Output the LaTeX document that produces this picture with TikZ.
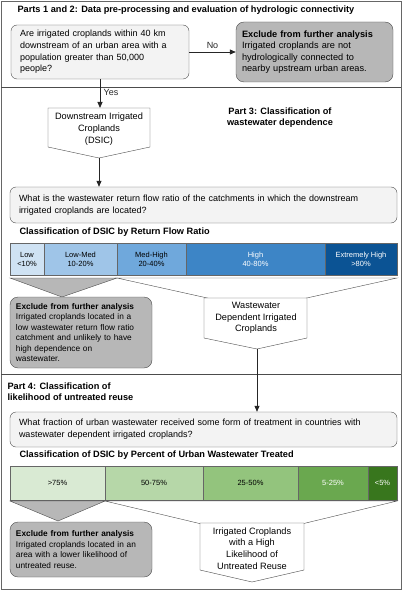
\documentclass[tikz,border=0pt]{standalone}
\usepackage{fontspec}
\setmainfont{Liberation Sans}
\usetikzlibrary{positioning,arrows.meta}

\definecolor{qfill}{HTML}{F3F3F3}
\definecolor{xfill}{HTML}{B7B7B7}
\definecolor{bA}{HTML}{CFE2F3}
\definecolor{bB}{HTML}{9FC5E8}
\definecolor{bC}{HTML}{6FA8DC}
\definecolor{bD}{HTML}{3D85C6}
\definecolor{bE}{HTML}{0B5394}
\definecolor{gA}{HTML}{D9EAD3}
\definecolor{gB}{HTML}{B6D7A8}
\definecolor{gC}{HTML}{93C47D}
\definecolor{gD}{HTML}{6AA84F}
\definecolor{gE}{HTML}{38761D}

\tikzset{
  question/.style={draw=black!70, fill=qfill, rounded corners=6pt, align=left,
    font=\fontsize{9}{11.7}\selectfont, inner xsep=9pt},
  exclude/.style={draw=black!70, fill=xfill, rounded corners=8pt, align=left,
    font=\fontsize{8.3}{10.4}\selectfont, inner xsep=9pt},
  outcome/.style={draw=black!70, fill=white},
  outtext/.style={align=center, font=\fontsize{9.2}{11.7}\selectfont},
  heading/.style={font=\bfseries\fontsize{9.2}{11}\selectfont, align=left},
  seg/.style={draw=black!60, align=center, font=\fontsize{7.5}{9}\selectfont},
  funnel/.style={draw=black!70},
  arrow/.style={-{Triangle[length=6pt,width=5pt]}, thick, black!85}
}

\begin{document}
\begin{tikzpicture}[x=1pt,y=-1pt]
\useasboundingbox (0,0) rectangle (403,591);

% Frame and section lines
\draw[black!60] (1,1) rectangle (401,589);
\draw[black!70] (1,87) -- (401,87);
\draw[black!70] (1,374) -- (401,374);

% Parts 1 and 2
\node[heading, anchor=west] (title12) at (14,10) {Parts 1 and 2: Data pre-processing and evaluation of hydrologic connectivity};
\node[question, minimum width=178pt, minimum height=54pt, text width=160pt] (q1) at (100,52)
  {Are irrigated croplands within 40 km\\downstream of an urban area with a\\population greater than 50,000\\people?};
\node[exclude, font=\fontsize{9.2}{11.3}\selectfont, inner xsep=6pt, minimum width=157pt, minimum height=60pt, text width=145pt] (ex1) at (314.5,52)
  {\textbf{Exclude from further analysis}\\Irrigated croplands are not\\hydrologically connected to\\nearby upstream urban areas.};
\draw[arrow] (q1.east) -- node[above, font=\fontsize{9}{10}\selectfont] {No} (ex1.west);

% Part 3
\coordinate (D1) at (48,108);
\coordinate (D2) at (150,108);
\coordinate (D3) at (150,147);
\coordinate (D4) at (99,158);
\coordinate (D5) at (48,147);
\draw[arrow] (q1.south) -- node[right, pos=0.45, font=\fontsize{9}{10}\selectfont] {Yes} (D1 -| q1.south);
\draw[outcome] (D1) -- (D2) -- (D3) -- (D4) -- (D5) -- cycle;
\node[outtext] (dsic) at (99,129) {Downstream Irrigated\\Croplands\\(DSIC)};

\node[heading, align=center] (title3) at (280,118) {Part 3: Classification of\\wastewater dependence};

\node[question, minimum width=387pt, minimum height=36pt, text width=369pt] (q2) at (203.5,205)
  {What is the wastewater return flow ratio of the catchments in which the downstream\\irrigated croplands are located?};
\draw[arrow] (D4) -- (D4 |- q2.north);

\node[heading, anchor=west] (class1) at (16,232) {Classification of DSIC by Return Flow Ratio};

% Return flow ratio bar
\foreach \i/\xa/\xb/\col/\tcol/\txt in {
    1/10/44/bA/black/{Low\\<10\%},
    2/44/117/bB/black/{Low-Med\\10-20\%},
    3/117/186/bC/black/{Med-High\\20-40\%},
    4/186/325/bD/white/{High\\40-80\%},
    5/325/397/bE/white/{Extremely High\\>80\%}}{
  \draw[seg, fill=\col] (\xa,243) rectangle (\xb,275);
  \node[seg, draw=none, text=\tcol] (rf\i) at ({(\xa+\xb)/2},259) {\txt};
}

% Funnels below the blue bar
\draw[funnel, fill=xfill] (10,278) -- (117,278) -- (62,297) -- cycle;
\draw[funnel, fill=white] (117,278) -- (397,278) -- (257,309) -- cycle;

\node[exclude, minimum width=142pt, minimum height=71pt, text width=130pt, inner xsep=6pt] (ex2) at (81,332.5)
  {\textbf{Exclude from further analysis}\\Irrigated croplands located in a\\low wastewater return flow ratio\\catchment and unlikely to have\\high dependence on\\wastewater.};

\coordinate (W1) at (204,298);
\coordinate (W2) at (307,298);
\coordinate (W3) at (307,338);
\coordinate (W4) at (257,349);
\coordinate (W5) at (204,338);
\draw[outcome] (W1) -- (W2) -- (W3) -- (W4) -- (W5) -- cycle;
\node[outtext] (wdic) at (256,318) {Wastewater\\Dependent Irrigated\\Croplands};

% Part 4
\node[heading, anchor=west] (title4) at (4,391.5) {Part 4: Classification of\\likelihood of untreated reuse};

\node[question, minimum width=387pt, minimum height=35pt, text width=369pt] (q3) at (203.5,429.5)
  {What fraction of urban wastewater received some form of treatment in countries with\\wastewater dependent irrigated croplands?};
\draw[arrow] (W4) -- (W4 |- q3.north);

\node[heading, anchor=west] (class2) at (16,455) {Classification of DSIC by Percent of Urban Wastewater Treated};

% Treatment bar
\foreach \i/\xa/\xb/\col/\tcol/\txt in {
    1/10/105/gA/black/{>75\%},
    2/105/203/gB/black/{50-75\%},
    3/203/298/gC/black/{25-50\%},
    4/298/368/gD/white/{5-25\%},
    5/368/397/gE/white/{<5\%}}{
  \draw[seg, fill=\col] (\xa,466) rectangle (\xb,500);
  \node[seg, draw=none, text=\tcol] (tr\i) at ({(\xa+\xb)/2},483) {\txt};
}

% Funnels below the green bar
\draw[funnel, fill=xfill] (10,501) -- (105,501) -- (58,521) -- cycle;
\draw[funnel, fill=white] (105,501) -- (397,501) -- (252,536) -- cycle;

\node[exclude, minimum width=142pt, minimum height=55pt, text width=130pt, inner xsep=6pt] (ex3) at (81,549.5)
  {\textbf{Exclude from further analysis}\\Irrigated croplands located in an\\area with a lower likelihood of\\untreated reuse.};

\coordinate (U1) at (200,523);
\coordinate (U2) at (304,523);
\coordinate (U3) at (304,570);
\coordinate (U4) at (252,582);
\coordinate (U5) at (200,570);
\draw[outcome] (U1) -- (U2) -- (U3) -- (U4) -- (U5) -- cycle;
\node[outtext] (hlur) at (252,548.5) {Irrigated Croplands\\with a High\\Likelihood of\\Untreated Reuse};
\end{tikzpicture}
\end{document}
